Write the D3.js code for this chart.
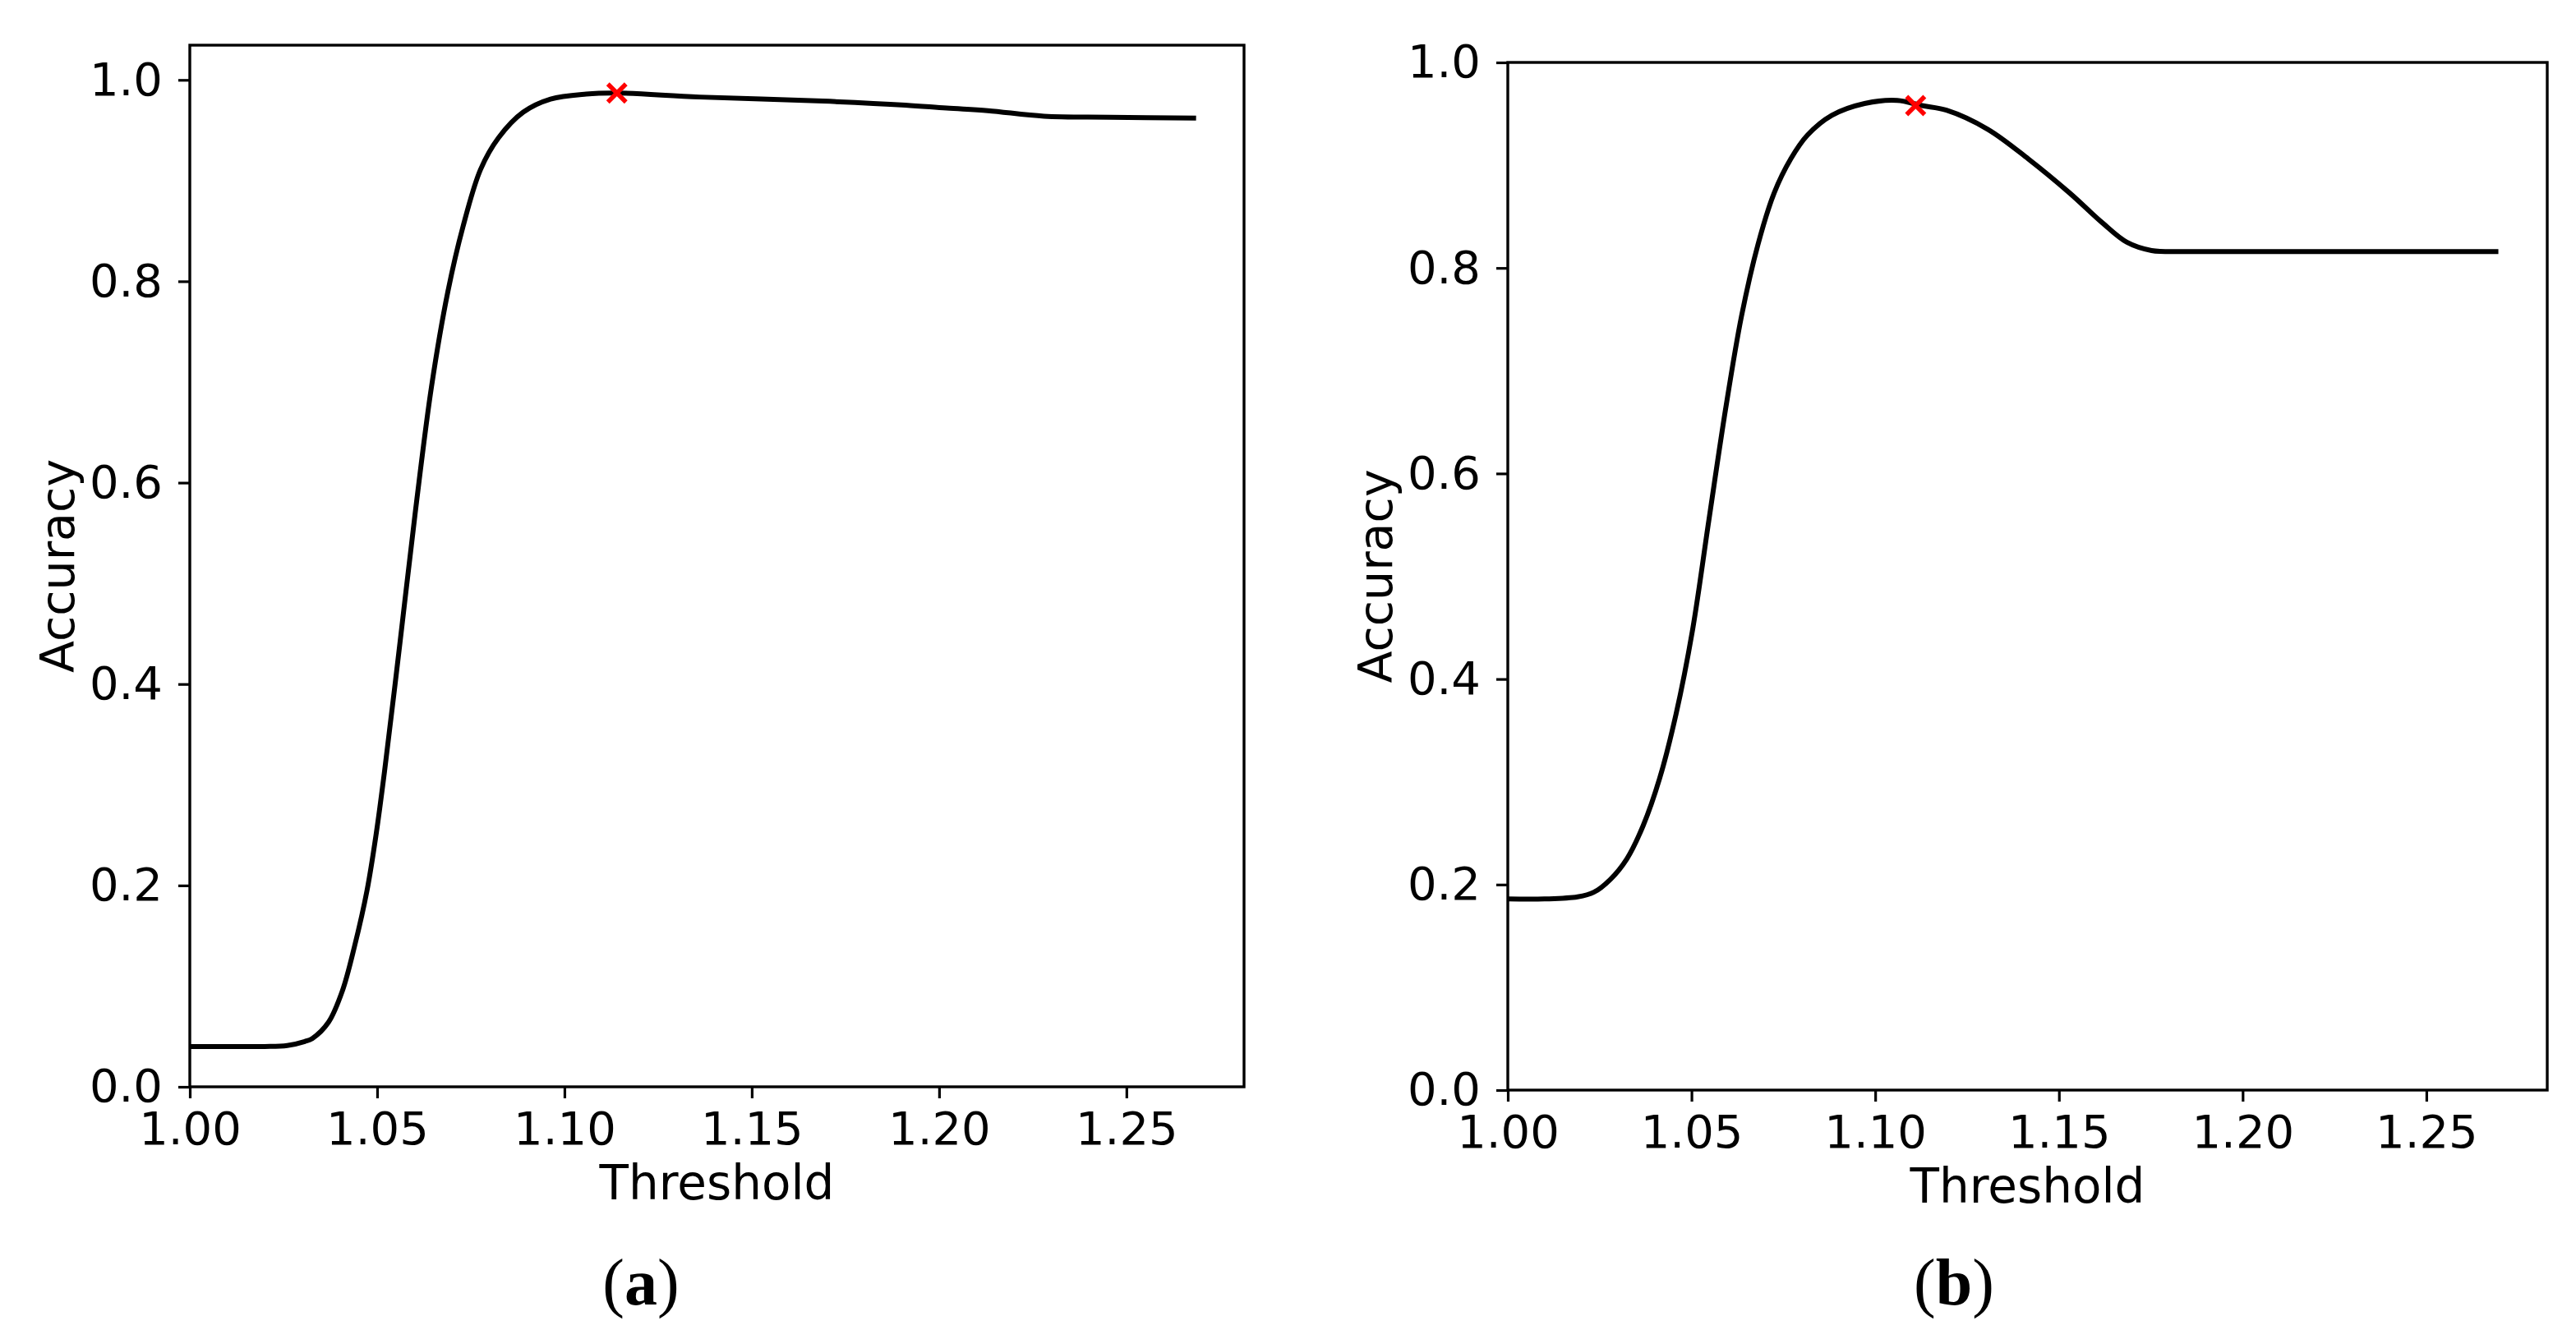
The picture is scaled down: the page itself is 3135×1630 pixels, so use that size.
<!DOCTYPE html>
<html>
<head>
<meta charset="utf-8">
<script src="https://cdn.jsdelivr.net/npm/d3@7"></script>
<style>
  body { margin: 0; background: #fff; }
  svg { display: block; }
  .tick text { font-family: "DejaVu Sans", sans-serif; font-size: 56px; fill: #000; }
  .tick line { stroke: #000; stroke-width: 3.2px; }
</style>
</head>
<body>
<div id="chart-area"></div>
<script>
// panel (a)
let thresholdA = [1.000, 1.010, 1.020, 1.026, 1.0307, 1.0327, 1.0370, 1.0407, 1.0440, 1.0473,
                  1.0497, 1.0520, 1.0561, 1.0601, 1.0645, 1.0689, 1.0729, 1.0776, 1.0824, 1.0890,
                  1.0963, 1.1058, 1.1140, 1.1360, 1.1690, 1.1910, 1.2020, 1.2130, 1.2280, 1.2456, 1.2686];
let accuracyA  = [0.040, 0.040, 0.040, 0.041, 0.045, 0.048, 0.064, 0.095, 0.140, 0.195,
                  0.250, 0.314, 0.441, 0.568, 0.695, 0.790, 0.854, 0.911, 0.9425, 0.968,
                  0.981, 0.986, 0.987, 0.983, 0.979, 0.975, 0.972, 0.9695, 0.964, 0.963, 0.962];
let bestA = [1.114, 0.987];

// panel (b)
let thresholdB = [1.000, 1.010, 1.019, 1.0234, 1.0279, 1.0324, 1.0368, 1.0413, 1.0458, 1.0502,
                  1.0547, 1.0592, 1.0636, 1.0681, 1.0725, 1.0770, 1.0815, 1.0882, 1.0971, 1.1060,
                  1.1127, 1.1194, 1.1306, 1.1417, 1.1529, 1.1618, 1.1685, 1.1752, 1.1864, 1.2200, 1.2696];
let accuracyB  = [0.186, 0.186, 0.188, 0.1925, 0.205, 0.225, 0.257, 0.303, 0.366, 0.446,
                  0.554, 0.661, 0.753, 0.823, 0.873, 0.906, 0.929, 0.9485, 0.960, 0.963,
                  0.958, 0.9535, 0.935, 0.906, 0.873, 0.844, 0.825, 0.817, 0.816, 0.816, 0.816];
let bestB = [1.111, 0.958];

let xTicks = [1.00, 1.05, 1.10, 1.15, 1.20, 1.25];
let yTicks = [0.0, 0.2, 0.4, 0.6, 0.8, 1.0];
let xTitle = "Threshold";
let yTitle = "Accuracy";

let svg = d3.select("#chart-area")
            .append("svg")
            .attr("width", 3135)
            .attr("height", 1630);

let panels = [
  { left: 231, top: 55, width: 1283, height: 1268, xMax: 1.2814, yMax: 1.0345,
    xs: thresholdA, ys: accuracyA, best: bestA, letter: "a", letterX: 780, yTitleX: 70 },
  { left: 1835, top: 76, width: 1265, height: 1251, xMax: 1.2829, yMax: 1.0,
    xs: thresholdB, ys: accuracyB, best: bestB, letter: "b", letterX: 2378, yTitleX: 1674 }
];

panels.forEach(function(p){
  let g = svg.append("g")
             .attr("transform", `translate(${p.left}, ${p.top})`);

  let x = d3.scaleLinear().domain([1.0, p.xMax]).range([0, p.width]);
  let y = d3.scaleLinear().domain([0, p.yMax]).range([p.height, 0]);

  let xAxisCall = d3.axisBottom(x)
                    .tickValues(xTicks)
                    .tickFormat(d3.format(".2f"))
                    .tickSize(14)
                    .tickPadding(16);
  g.append("g")
   .attr("transform", `translate(0, ${p.height})`)
   .call(xAxisCall)
   .call(function(a){ a.select(".domain").remove(); });

  let yAxisCall = d3.axisLeft(y)
                    .tickValues(yTicks)
                    .tickFormat(d3.format(".1f"))
                    .tickSize(14)
                    .tickPadding(19);
  g.append("g")
   .call(yAxisCall)
   .call(function(a){ a.select(".domain").remove(); });

  // frame
  g.append("rect")
   .attr("width", p.width)
   .attr("height", p.height)
   .attr("fill", "none")
   .attr("stroke", "#000")
   .attr("stroke-width", 3.4);

  let pts = p.xs.map(function(d, i){ return [d, p.ys[i]]; });

  let line = d3.line()
               .x(function(d){ return x(d[0]); })
               .y(function(d){ return y(d[1]); })
               .curve(d3.curveCatmullRom.alpha(0.5));

  g.append("path")
   .datum(pts)
   .attr("d", line)
   .attr("fill", "none")
   .attr("stroke", "#000")
   .attr("stroke-width", 6)
   .attr("stroke-linejoin", "round");

  // best threshold marker
  let bx = x(p.best[0]), by = y(p.best[1]), s = 11;
  g.append("path")
   .attr("d", `M${bx - s},${by - s}L${bx + s},${by + s}M${bx - s},${by + s}L${bx + s},${by - s}`)
   .attr("stroke", "#ff0000")
   .attr("stroke-width", 5.5)
   .attr("fill", "none");

  g.append("text")
   .attr("x", p.width / 2)
   .attr("y", p.height + 137)
   .attr("text-anchor", "middle")
   .attr("font-family", "DejaVu Sans, sans-serif")
   .attr("font-size", "58px")
   .text(xTitle);

  svg.append("text")
     .attr("transform", `translate(${p.yTitleX}, ${p.top + p.height / 2}) rotate(-90)`)
     .attr("text-anchor", "middle")
     .attr("dy", "0.35em")
     .attr("font-family", "DejaVu Sans, sans-serif")
     .attr("font-size", "57px")
     .text(yTitle);

  let lab = svg.append("text")
               .attr("x", p.letterX)
               .attr("y", 1588)
               .attr("text-anchor", "middle")
               .attr("font-family", "Liberation Serif, serif")
               .attr("font-size", "80px");
  lab.append("tspan").text("(");
  lab.append("tspan").attr("font-weight", "bold").text(p.letter);
  lab.append("tspan").text(")");
});
</script>
</body>
</html>
